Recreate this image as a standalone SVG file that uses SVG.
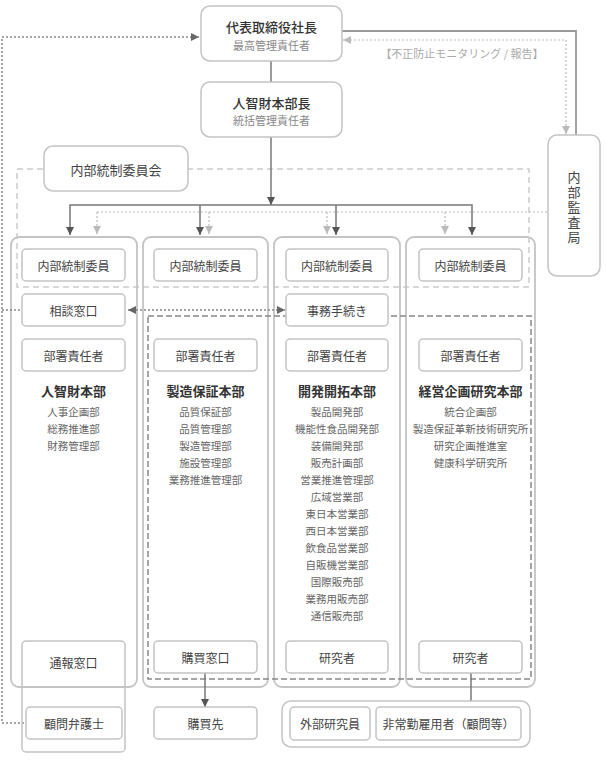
<svg xmlns="http://www.w3.org/2000/svg" width="606" height="775" viewBox="0 0 606 775">
<defs>
<style>
text{font-family:"Noto Sans CJK JP","Noto Sans",sans-serif;text-anchor:middle;dominant-baseline:central}
.box{fill:#fff;stroke:#c4c4c4;stroke-width:1.5}
.col{fill:none;stroke:#c4c4c4;stroke-width:1.8}
.lbl{font-size:12px;fill:#444}
.ttl{font-size:13px;fill:#333;font-weight:500}
.sub{font-size:11px;fill:#888}
.dh{font-size:13px;fill:#333;font-weight:bold}
.it{font-size:10.5px;fill:#666}
.solid{fill:none;stroke:#777;stroke-width:1.5}
.solidL{fill:none;stroke:#999;stroke-width:1.8}
.dotL{fill:none;stroke:#bbb;stroke-width:1.2;stroke-dasharray:2,2}
.dotD{fill:none;stroke:#888;stroke-width:1.5;stroke-dasharray:2,2}
.dashL{fill:none;stroke:#ccc;stroke-width:1.5;stroke-dasharray:6,4}
.dashD{fill:none;stroke:#888;stroke-width:1.5;stroke-dasharray:6,3}
</style>
<marker id="aD" viewBox="0 0 8 8" refX="8" refY="4" markerWidth="8" markerHeight="8" markerUnits="userSpaceOnUse" orient="auto-start-reverse"><path d="M0,0 L8,4 L0,8 z" fill="#555"/></marker>
<marker id="aL" viewBox="0 0 8 8" refX="8" refY="4" markerWidth="8" markerHeight="8" markerUnits="userSpaceOnUse" orient="auto-start-reverse"><path d="M0,0 L8,4 L0,8 z" fill="#bbb"/></marker>
<marker id="aM" viewBox="0 0 8 8" refX="8" refY="4" markerWidth="8" markerHeight="8" markerUnits="userSpaceOnUse" orient="auto-start-reverse"><path d="M0,0 L8,4 L0,8 z" fill="#666"/></marker>
</defs>

<!-- background frames -->
<g id="frames">
<rect class="dashL" x="17" y="169" width="512" height="118"/>
<rect class="col" x="11" y="237" width="126" height="450" rx="8"/>
<rect class="col" x="143" y="237" width="125" height="450" rx="8"/>
<rect class="col" x="274" y="237" width="126" height="450" rx="8"/>
<rect class="col" x="406" y="237" width="129" height="450" rx="8"/>
<rect class="dashD" x="148" y="316" width="383" height="363"/>
</g>

<g id="connectors">
<path class="dotD" d="M24,723 L2,723 L2,37 L199,37" marker-end="url(#aM)"/>
<path class="dotD" d="M2,310 L22,310"/>
<path class="dotD" d="M128,310 L285,310" marker-start="url(#aM)" marker-end="url(#aM)"/>
<path class="solidL" d="M342,31 L576,31 L576,135"/>
<path class="dotL" d="M566,134 L566,40 L343,40" marker-start="url(#aL)" marker-end="url(#aL)"/>
<path class="solid" d="M271,61 L271,82"/>
<path class="solid" d="M271,137 L271,205" marker-end="url(#aD)"/>
<path class="solid" d="M70,235 L70,205 L472,205 L472,235" marker-start="url(#aD)" marker-end="url(#aD)"/>
<path class="solid" d="M200,205 L200,235" marker-end="url(#aD)"/>
<path class="solid" d="M336,205 L336,235" marker-end="url(#aD)"/>
<path class="dotL" d="M97,212 L548,212"/>
<path class="dotL" d="M97,212 L97,234" marker-end="url(#aL)"/>
<path class="dotL" d="M209,212 L209,234" marker-end="url(#aL)"/>
<path class="dotL" d="M327,212 L327,234" marker-end="url(#aL)"/>
<path class="dotL" d="M445,212 L445,234" marker-end="url(#aL)"/>
<path class="solid" d="M205,673 L205,707" marker-end="url(#aD)"/>
<path class="solid" d="M471,673 L471,701"/>
<text x="462" y="53" style="font-size:11px;fill:#aaa">【不正防止モニタリング / 報告】</text>
</g>

<g id="ceo">
<rect class="box" x="201" y="6" width="141" height="55" rx="9"/>
<text class="ttl" x="271.5" y="26">代表取締役社長</text>
<text class="sub" x="271.5" y="45">最高管理責任者</text>
</g>
<g id="head">
<rect class="box" x="201" y="82" width="141" height="55" rx="9"/>
<text class="ttl" x="271.5" y="102">人智財本部長</text>
<text class="sub" x="271.5" y="120">統括管理責任者</text>
</g>
<g id="committee">
<rect class="box" x="44" y="146" width="144" height="45" rx="9"/>
<text class="lbl" x="116" y="169" style="font-size:13px">内部統制委員会</text>
</g>
<g id="audit">
<rect class="box" x="548" y="135" width="52" height="141" rx="9"/>
<text class="lbl" x="574" y="208" style="font-size:13px;writing-mode:vertical-rl;letter-spacing:2px">内部監査局</text>
</g>

<g id="col1">
<rect class="box" x="22" y="249" width="103" height="32" rx="4"/><text class="lbl" x="73.5" y="265">内部統制委員</text>
<rect class="box" x="22" y="294" width="103" height="32" rx="4"/><text class="lbl" x="73.5" y="310">相談窓口</text>
<rect class="box" x="22" y="339" width="103" height="32" rx="4"/><text class="lbl" x="73.5" y="355">部署責任者</text>
<text class="dh" x="73.5" y="390">人智財本部</text>
<text class="it" x="73.5" y="411">人事企画部</text>
<text class="it" x="73.5" y="428">総務推進部</text>
<text class="it" x="73.5" y="445">財務管理部</text>
</g>
<g id="col2">
<rect class="box" x="154" y="249" width="103" height="32" rx="4"/><text class="lbl" x="205.5" y="265">内部統制委員</text>
<rect class="box" x="154" y="339" width="103" height="32" rx="4"/><text class="lbl" x="205.5" y="355">部署責任者</text>
<text class="dh" x="205.5" y="390">製造保証本部</text>
<text class="it" x="205.5" y="411">品質保証部</text>
<text class="it" x="205.5" y="428">品質管理部</text>
<text class="it" x="205.5" y="445">製造管理部</text>
<text class="it" x="205.5" y="462">施設管理部</text>
<text class="it" x="205.5" y="479">業務推進管理部</text>
<rect class="box" x="154" y="641" width="103" height="32" rx="4"/><text class="lbl" x="205.5" y="657">購買窓口</text>
</g>
<g id="col3">
<rect class="box" x="286" y="249" width="102" height="32" rx="4"/><text class="lbl" x="337" y="265">内部統制委員</text>
<rect class="box" x="286" y="294" width="102" height="32" rx="4"/><text class="lbl" x="337" y="310">事務手続き</text>
<rect class="box" x="286" y="339" width="102" height="32" rx="4"/><text class="lbl" x="337" y="355">部署責任者</text>
<text class="dh" x="337" y="390">開発開拓本部</text>
<text class="it" x="337" y="411">製品開発部</text>
<text class="it" x="337" y="428">機能性食品開発部</text>
<text class="it" x="337" y="445">装備開発部</text>
<text class="it" x="337" y="462">販売計画部</text>
<text class="it" x="337" y="479">営業推進管理部</text>
<text class="it" x="337" y="496">広域営業部</text>
<text class="it" x="337" y="513">東日本営業部</text>
<text class="it" x="337" y="530">西日本営業部</text>
<text class="it" x="337" y="547">飲食品営業部</text>
<text class="it" x="337" y="564">自販機営業部</text>
<text class="it" x="337" y="581">国際販売部</text>
<text class="it" x="337" y="598">業務用販売部</text>
<text class="it" x="337" y="615">通信販売部</text>
<rect class="box" x="286" y="641" width="102" height="32" rx="4"/><text class="lbl" x="337" y="657">研究者</text>
</g>
<g id="col4">
<rect class="box" x="419" y="249" width="103" height="32" rx="4"/><text class="lbl" x="470.5" y="265">内部統制委員</text>
<rect class="box" x="419" y="339" width="103" height="32" rx="4"/><text class="lbl" x="470.5" y="355">部署責任者</text>
<text class="dh" x="470.5" y="390">経営企画研究本部</text>
<text class="it" x="470.5" y="411">統合企画部</text>
<text class="it" x="470.5" y="428">製造保証革新技術研究所</text>
<text class="it" x="470.5" y="445">研究企画推進室</text>
<text class="it" x="470.5" y="462">健康科学研究所</text>
<rect class="box" x="419" y="641" width="103" height="32" rx="4"/><text class="lbl" x="470.5" y="657">研究者</text>
</g>
<g id="report">
<rect class="box" x="22" y="641" width="103" height="111" rx="4" style="fill:none"/>
<text class="lbl" x="73.5" y="662">通報窓口</text>
<rect class="box" x="26" y="707" width="96" height="32" rx="4"/>
<text class="lbl" x="74" y="723">顧問弁護士</text>
</g>
<g id="supplier">
<rect class="box" x="154" y="707" width="103" height="32" rx="4"/>
<text class="lbl" x="205.5" y="723">購買先</text>
</g>
<g id="external">
<rect class="box" x="282" y="701" width="248" height="46" rx="9"/>
<rect class="box" x="290" y="707" width="80" height="33" rx="4"/>
<text class="lbl" x="330" y="723.5">外部研究員</text>
<rect class="box" x="376" y="707" width="145" height="33" rx="4"/>
<text class="lbl" x="448.5" y="723.5">非常勤雇用者（顧問等）</text>
</g>
</svg>
